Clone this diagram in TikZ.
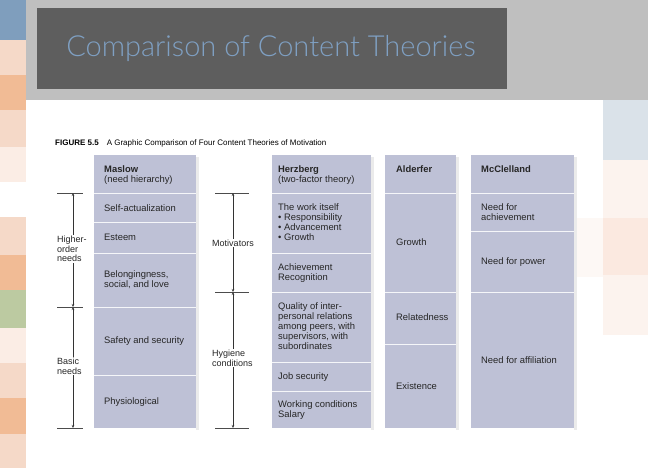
\documentclass[tikz,border=0pt]{standalone}
\usepackage{fontspec}
\setmainfont{Liberation Sans}
\newfontfamily\titlefont{Lato Light}
\usetikzlibrary{arrows.meta}
\definecolor{colfill}{HTML}{BEC1D6}
\definecolor{tblue}{HTML}{7FA0C3}
\definecolor{sblue}{HTML}{7F9EBD}
\definecolor{speach}{HTML}{F5D9C8}
\definecolor{sorange}{HTML}{F1BB95}
\definecolor{slight}{HTML}{FBEDE5}
\definecolor{sgreen}{HTML}{BCCAA1}
\definecolor{rblue}{HTML}{DAE2E9}
\definecolor{rlight}{HTML}{FCF3EE}
\definecolor{rpeach}{HTML}{FBE9E0}
\tikzset{
  cell/.style={anchor=north west,font=\fontsize{9.4}{10.2}\selectfont,align=left,inner sep=0pt,text=black!85},
  head/.style={cell},
  divl/.style={white!85!colfill,line width=1pt},
  tick/.style={black!70,line width=0.5pt},
  darr/.style={black!80,line width=0.6pt,{Stealth[length=3pt,width=2.5pt]}-{Stealth[length=3pt,width=2.5pt]}},
  side/.style={font=\fontsize{9}{9.6}\selectfont,align=left,inner sep=0pt,text=black!85},
}
\begin{document}
\begin{tikzpicture}[x=1pt,y=-1pt]
\useasboundingbox (0,0) rectangle (648,468);
\fill[white] (0,0) rectangle (648,468);
\foreach \a/\b/\c in {0/40/sblue,40/75/speach,75/110/sorange,110/147/speach,147/182/slight,217/255/speach,255/290/sorange,290/328/sgreen,328/363/slight,363/398/speach,398/434/sorange,434/468/speach}
  \fill[\c] (0,\a) rectangle (26,\b);
\foreach \a/\b/\c in {100/160/rblue,160/218/rlight,218/275/rpeach,275/335/rlight}
  \fill[\c] (603,\a) rectangle (648,\b);
\fill[rlight!60] (577,218) rectangle (603,277);
\fill[black!25] (26,0) rectangle (648,100);
\fill[black!63] (37,8) rectangle (507,89);
\node[font=\titlefont\fontsize{29}{30}\selectfont,text=tblue,inner sep=0pt] (title) at (271,49) {Comparison of Content Theories};
\node[anchor=west,inner sep=0pt,font=\fontsize{8}{9}\selectfont] (cap) at (55,143) {\textbf{FIGURE 5.5}\quad A Graphic Comparison of Four Content Theories of Motivation};
\foreach \x/\w in {94/102,272/99,385/71,471/103}{
  \fill[black!8] (\x+\w,157) rectangle (\x+\w+3,430);
  \fill[colfill] (\x,155) rectangle (\x+\w,428);
}
\foreach \y in {193,222,253,307,375} \draw[divl] (94,\y) -- (196,\y);
\foreach \y in {193,253,292,362,391} \draw[divl] (272,\y) -- (371,\y);
\foreach \y in {193,292,344} \draw[divl] (385,\y) -- (456,\y);
\foreach \y in {193,231,292} \draw[divl] (471,\y) -- (574,\y);
\node[head] (m0) at (104,165) {\textbf{Maslow}\\(need hierarchy)};
\node[cell] (m1) at (104,204) {Self-actualization};
\node[cell] (m2) at (104,234) {Esteem};
\node[cell] (m3) at (104,270) {Belongingness,\\social, and love};
\node[cell] (m4) at (104,336) {Safety and security};
\node[cell] (m5) at (104,397) {Physiological};
\node[head] (h0) at (278,165) {\textbf{Herzberg}\\(two-factor theory)};
\node[cell] (h1) at (278,203) {The work itself\\\textbullet\ Responsibility\\\textbullet\ Advancement\\\textbullet\ Growth};
\node[cell] (h2) at (278,263) {Achievement\\Recognition};
\node[cell] (h3) at (278,302) {Quality of inter-\\personal relations\\among peers, with\\supervisors, with\\subordinates};
\node[cell] (h4) at (278,372) {Job security};
\node[cell] (h5) at (278,400) {Working conditions\\Salary};
\node[head] (a0) at (396,165) {\textbf{Alderfer}};
\node[cell] (a1) at (396,238) {Growth};
\node[cell] (a2) at (396,313) {Relatedness};
\node[cell] (a3) at (396,382) {Existence};
\node[head] (c0) at (481,165) {\textbf{McClelland}};
\node[cell] (c1) at (481,203) {Need for\\achievement};
\node[cell] (c2) at (481,257) {Need for power};
\node[cell] (c3) at (481,356) {Need for affiliation};
\coordinate (l1) at (73,193); \coordinate (l2) at (73,307); \coordinate (l3) at (73,428);
\draw[tick] (57,193) -- (83,193);
\draw[tick] (57,307) -- (83,307);
\draw[tick] (57,428) -- (83,428);
\draw[darr] (l1) -- (l2);
\draw[darr] (l2) -- (l3);
\node[side,fill=white,inner sep=1pt,anchor=north west] (hon) at (56,235) {Higher-\\order\\needs};
\node[side,fill=white,inner sep=1pt,anchor=north west] (bn) at (56,357) {Basic\\needs};
\coordinate (r1) at (233,193); \coordinate (r2) at (233,292); \coordinate (r3) at (233,428);
\draw[tick] (215,193) -- (249,193);
\draw[tick] (215,292) -- (249,292);
\draw[tick] (215,428) -- (249,428);
\draw[darr] (r1) -- (r2);
\draw[darr] (r2) -- (r3);
\node[side,fill=white,inner sep=1pt] (mot) at (233,243) {Motivators};
\node[side,fill=white,inner sep=1pt,anchor=north west] (hyg) at (211,349) {Hygiene\\conditions};
\end{tikzpicture}
\end{document}
